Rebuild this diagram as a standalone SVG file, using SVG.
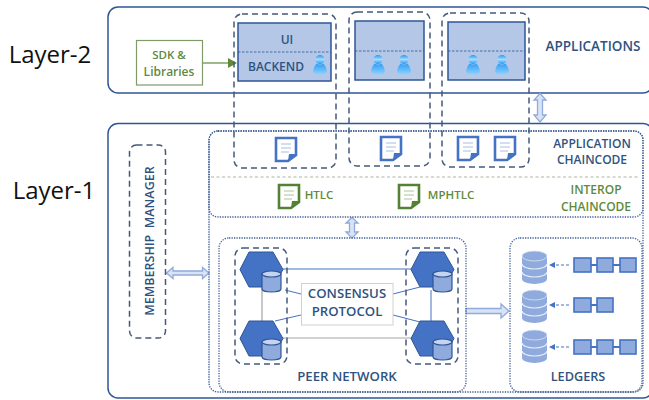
<svg xmlns="http://www.w3.org/2000/svg" xmlns:xlink="http://www.w3.org/1999/xlink" width="649" height="400" viewBox="0 0 649 400">
<style>
text{font-family:"Open Sans","Noto Sans","Liberation Sans",sans-serif}
.t{font-weight:600;fill:#2f5380;font-size:12px;text-anchor:middle}
.g{font-weight:600;fill:#5f8a3c;font-size:11.500px;text-anchor:middle}
.layer{font-size:24px;fill:#111;font-weight:400;text-anchor:middle}
.outer{fill:none;stroke:#2f5597;stroke-width:1.500}
.dash{fill:none;stroke:#44587c;stroke-width:1.500;stroke-dasharray:6 4}
.dot{fill:none;stroke:#3f5f95;stroke-width:1.300;stroke-dasharray:1.300 1.200}
.app{fill:#b4c7e7;stroke:#2f5597;stroke-width:1.500}
.div{stroke:#2f5597;stroke-width:.8;stroke-dasharray:2.500 1.500}
.hex{fill:#4472c4;stroke:#2f5597;stroke-width:1}
.dbl{fill:#dae3f3;stroke:#8faadc;stroke-width:1.300}
.blk{fill:#8faadc;stroke:#4472c4;stroke-width:1.600}
.ln{stroke:#4472c4;stroke-width:1;fill:none}
.gy{stroke:#a5a5a5;stroke-width:1.200;fill:none}
.da{stroke:#4472c4;stroke-width:1;stroke-dasharray:3 2;fill:none}
</style>
<defs>
<linearGradient id="pg" x1="0" y1="0" x2="0" y2="1"><stop offset="0" stop-color="#2f9ef8"/><stop offset="1" stop-color="#8ed2ff"/></linearGradient>
<linearGradient id="ph" x1="0" y1="0" x2="0" y2="1"><stop offset="0" stop-color="#2a96f2"/><stop offset=".5" stop-color="#a5dcff"/><stop offset="1" stop-color="#2a96f2"/></linearGradient>
<g id="person"><ellipse cx="0" cy="-5.500" rx="4.500" ry="4.500" fill="url(#ph)"/><path d="M-3.500-1.500Q0 .5 3.500-1.500Q7 3 6.800 7Q6 9.500 0 9.500Q-6 9.500-6.800 7Q-7 3-3.500-1.500Z" fill="url(#pg)"/></g>
<g id="doc"><path d="M-10-11H10V6L2 12H-10Z" fill="#fff" stroke="#4472c4" stroke-width="2.600"/><path d="M2 12L3 5H11Z" fill="#4472c4"/><path d="M-5-5H5M-5-1H5M-5 3H3" stroke="#a9bee3" stroke-width="1.200"/></g>
<g id="gdoc"><path d="M-10-11H10V6L2 12H-10Z" fill="#fff" stroke="#548235" stroke-width="2.600"/><path d="M2 12L3 5H11Z" fill="#548235"/><path d="M-5-5H5M-5-1H5M-5 3H3" stroke="#a9c594" stroke-width="1.200"/></g>
<g id="cyl"><path d="M0 3V18A9.500 3 0 0 0 19 18V3Z" fill="#8faadc" stroke="#2f5597" stroke-width="1.200"/><ellipse cx="9.500" cy="3" rx="9.500" ry="3" fill="#c6d4ee" stroke="#2f5597" stroke-width="1.200"/></g>
<g id="db"><path d="M0 5V28A12.500 5 0 0 0 25 28V5Z" fill="#8faadc"/><ellipse cx="12.500" cy="5" rx="12.500" ry="5" fill="#8faadc" stroke="#dfe6f4" stroke-width=".8"/><path d="M0 13A12.500 5 0 0 0 25 13M0 21A12.500 5 0 0 0 25 21" fill="none" stroke="#e6ecf7" stroke-width="1.200"/></g>
<path id="hx" d="M0 17.500L9 0H33L43 17.500L33 35H9Z"/>
</defs>

<g id="layer-labels">
<text class="layer" x="50" y="63">Layer-2</text>
<text class="layer" x="54" y="199">Layer-1</text>
</g>

<g id="applications-layer"><rect class="outer" x="108" y="7" width="545" height="86" rx="10"/><text class="t" x="593" y="51" style="font-size:13.500px">APPLICATIONS</text></g>
<g id="blockchain-layer"><rect class="outer" x="108" y="123.500" width="545" height="274.500" rx="10"/></g>

<g id="connectors">
<path d="M202 63H229" stroke="#5f8a3c" stroke-width="1.200" fill="none"/>
<path d="M228 58L237 63L228 68Z" fill="#5f8a3c"/>
<path class="dbl" d="M540 93.500L546 100H542.500V115H546L540 122L534 115H537.500V100H534Z"/>
<path class="dbl" d="M352 217.500L358 223H354.500V232H358L352 238L346 232H349.500V223H346Z"/>
<path class="dbl" d="M166.500 273L173 267.500V271H202.500V267.500L209 273L202.500 278.500V275H173V278.500Z"/>
<path class="dbl" d="M466 308.500H501V304L509 311L501 318V313.500H466Z"/>
<path class="ln" d="M283 269H411"/>
<path class="gy" d="M283 338H411M262 288V321"/>
<path class="ln" d="M431 290V321M285 290L301 294M275 321L301 315M393 294L420 287M393 315L420 322"/>
<path class="da" d="M569 265H554M569 305H554M569 347H554"/>
<path d="M549 265L555 262V268ZM549 305L555 302V308ZM549 347L555 344V350Z" fill="#4472c4"/>
</g>

<g id="sdk"><rect x="136.500" y="40.500" width="66" height="44.500" fill="#fff" stroke="#7f9a6b" stroke-width="1.200"/><text class="g" x="169" y="59">SDK &amp;</text><text class="g" x="169" y="75.500" style="font-size:12px">Libraries</text></g>

<g id="app-1"><rect class="app" x="238" y="23" width="93" height="58"/><path class="div" d="M238 52H331"/><text class="t" x="287" y="44">UI</text><text class="t" x="276" y="71">BACKEND</text><use xlink:href="#person" x="320" y="65"/></g>
<g id="app-2"><rect class="app" x="355" y="21" width="69" height="59"/><path class="div" d="M355 51H424"/><use xlink:href="#person" x="378" y="65"/><use xlink:href="#person" x="404" y="65"/></g>
<g id="app-3"><rect class="app" x="448" y="22" width="77" height="58"/><path class="div" d="M448 51H525"/><use xlink:href="#person" x="473" y="65"/><use xlink:href="#person" x="502" y="65"/></g>

<g id="chaincode"><rect class="dot" x="209" y="131" width="434" height="86" rx="9"/><rect class="dot" x="209" y="131" width="434" height="261" rx="9"/><path d="M211 177H640" stroke="#a9b59c" stroke-width="1" stroke-dasharray="3 2.500"/>
<use xlink:href="#doc" x="286" y="149"/><use xlink:href="#doc" x="391" y="148"/><use xlink:href="#doc" x="468" y="148"/><use xlink:href="#doc" x="505" y="148"/>
<use xlink:href="#gdoc" x="289" y="196"/><use xlink:href="#gdoc" x="409" y="196"/>
<text class="g" x="319" y="199">HTLC</text><text class="g" x="451" y="199">MPHTLC</text>
<text class="t" x="592" y="148">APPLICATION</text><text class="t" x="592" y="164">CHAINCODE</text>
<text class="g" x="596" y="194" style="font-size:12px">INTEROP</text><text class="g" x="596" y="211" style="font-size:12px">CHAINCODE</text></g>

<g id="app-groups"><rect class="dash" x="234" y="14" width="102" height="154" rx="8"/><rect class="dash" x="349" y="12" width="81" height="154" rx="8"/><rect class="dash" x="442" y="13" width="87" height="154" rx="8"/></g>

<g id="membership"><rect class="dash" x="129.500" y="145" width="36" height="193" rx="7"/><text class="t" transform="translate(154 241) rotate(-90)" style="font-size:12.500px">MEMBERSHIP&#160; MANAGER</text></g>

<g id="peer-network"><rect class="dot" x="219" y="238" width="247" height="154" rx="10"/><text class="t" x="347" y="381" style="font-size:13.200px">PEER NETWORK</text>
<rect class="dash" x="235" y="248" width="52" height="116" rx="8"/><rect class="dash" x="406" y="248" width="52" height="116" rx="8"/>
<use class="hex" xlink:href="#hx" x="240" y="252"/><use class="hex" xlink:href="#hx" x="240" y="321"/><use class="hex" xlink:href="#hx" x="411" y="252"/><use class="hex" xlink:href="#hx" x="411" y="321"/>
<use xlink:href="#cyl" x="262" y="271"/><use xlink:href="#cyl" x="262" y="339"/><use xlink:href="#cyl" x="433" y="271"/><use xlink:href="#cyl" x="433" y="339"/></g>

<g id="consensus"><rect x="301.500" y="283.500" width="91.500" height="41.500" fill="#fff" stroke="#d0d0d0" stroke-width="1"/><text class="t" x="347" y="298" style="font-size:13.200px">CONSENSUS</text><text class="t" x="347" y="316" style="font-size:13.200px">PROTOCOL</text></g>

<g id="ledgers"><rect class="dot" x="510" y="238" width="132" height="154" rx="10"/><text class="t" x="578" y="381" style="font-size:12.700px">LEDGERS</text>
<use xlink:href="#db" x="522" y="251"/><use xlink:href="#db" x="522" y="290"/><use xlink:href="#db" x="522" y="330"/>
<path d="M591 265H597M613 265H620M591 305H597M591 347H597M613 347H620" stroke="#4472c4" stroke-width="1.800"/>
<rect class="blk" x="574" y="258" width="17" height="14"/><rect class="blk" x="597" y="258" width="16" height="14"/><rect class="blk" x="620" y="258" width="16" height="14"/>
<rect class="blk" x="574" y="298" width="17" height="14"/><rect class="blk" x="597" y="298" width="16" height="14"/>
<rect class="blk" x="574" y="340" width="17" height="14"/><rect class="blk" x="597" y="340" width="16" height="14"/><rect class="blk" x="620" y="340" width="16" height="14"/></g>
</svg>
